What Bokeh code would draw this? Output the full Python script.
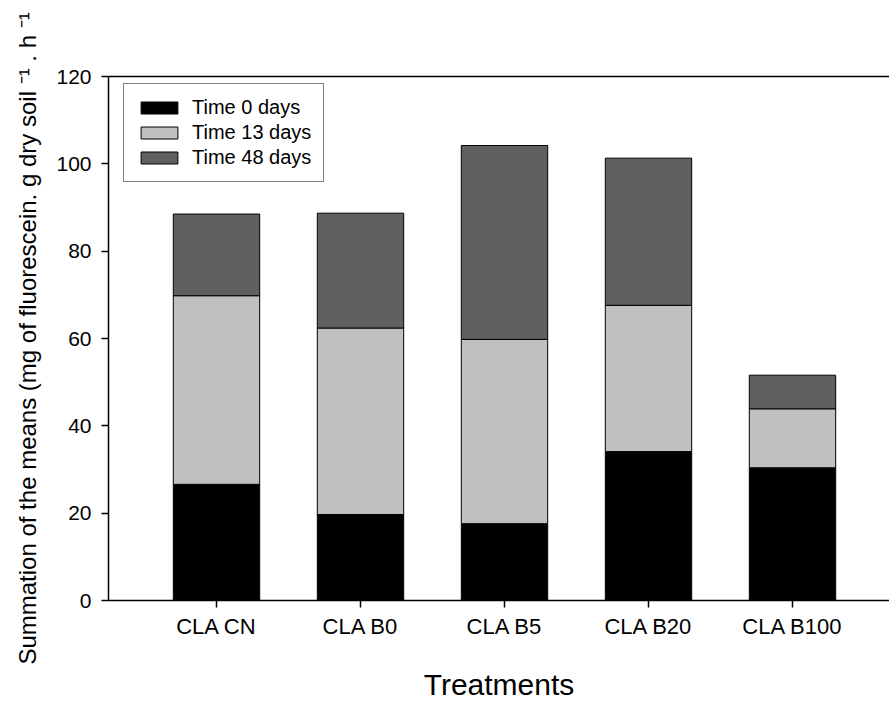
from bokeh.plotting import figure
from bokeh.models import (ColumnDataSource, Range1d, FixedTicker, LinearAxis, Legend, LegendItem)
from bokeh.embed import file_html
from bokeh.resources import INLINE

categories = ["CLA CN", "CLA B0", "CLA B5", "CLA B20", "CLA B100"]
time0 = [26.6, 19.7, 17.6, 34.1, 30.4]
time13 = [43.2, 42.7, 42.2, 33.5, 13.5]
time48 = [18.7, 26.3, 44.4, 33.7, 7.7]
series_names = ["Time 0 days", "Time 13 days", "Time 48 days"]
colors = ["#000000", "#c0c0c0", "#606060"]
y_ticks = [0, 20, 40, 60, 80, 100, 120]

FONT = "Liberation Sans"

xpos = list(range(len(categories)))
src = ColumnDataSource(dict(x=xpos, t0=time0, t13=time13, t48=time48))

W, H = 889, 704
LEFT, TOP, FRAME_H = 108, 76, 524
p = figure(width=W, height=H, output_backend="svg", toolbar_location=None,
           x_range=Range1d(-0.75, -0.75 + (W - LEFT) / 144), y_range=Range1d(0, 120),
           min_border_left=LEFT, min_border_right=0, min_border_top=TOP,
           min_border_bottom=H - TOP - FRAME_H)
p.outline_line_color = None
p.xgrid.visible = False
p.ygrid.visible = False
p.background_fill_color = "white"

renderers = p.vbar_stack(["t0", "t13", "t48"], x="x", width=0.6, source=src,
                         fill_color=colors, line_color="black", line_width=1)

legend = Legend(items=[LegendItem(label=n, renderers=[r]) for n, r in zip(series_names, renderers)],
                location=(15, 418))
legend.label_text_font = FONT
legend.label_text_font_size = "20px"
legend.label_text_color = "black"
legend.label_height = 20
legend.glyph_height = 15
legend.glyph_width = 46
legend.spacing = 2
legend.padding = 12
legend.margin = 0
legend.label_standoff = 10
legend.border_line_color = "black"
legend.border_line_width = 1
legend.background_fill_alpha = 1
p.add_layout(legend)

xa = p.xaxis[0]
xa.ticker = FixedTicker(ticks=xpos)
xa.major_label_overrides = {i: c for i, c in enumerate(categories)}
xa.axis_label = "Treatments"

ya = p.yaxis[0]
ya.ticker = FixedTicker(ticks=y_ticks)
ya.axis_label = "Summation of the means (mg of fluorescein. g dry soil \u207b\u00b9 . h \u207b\u00b9"

for ax in (xa, ya):
    ax.axis_line_color = "black"
    ax.axis_line_width = 1.5
    ax.major_tick_line_color = "black"
    ax.major_tick_line_width = 1.5
    ax.major_tick_out = 7
    ax.major_tick_in = 0
    ax.minor_tick_line_color = None
    ax.major_label_text_font = FONT
    ax.major_label_text_color = "black"
    ax.axis_label_text_font = FONT
    ax.axis_label_text_font_style = "normal"
    ax.axis_label_text_color = "black"

xa.major_label_text_font_size = "22px"
xa.major_label_standoff = 6
xa.axis_label_text_font_size = "30px"
xa.axis_label_standoff = 26
ya.major_label_text_font_size = "21px"
ya.major_label_standoff = 10
ya.axis_label_text_font_size = "24px"
ya.axis_label_standoff = 12

top = LinearAxis(axis_line_color="black", axis_line_width=1.5,
                 major_tick_line_color=None, minor_tick_line_color=None,
                 major_label_text_font_size="0px")
top.ticker = FixedTicker(ticks=[])
p.add_layout(top, "above")

open("out.html", "w").write(file_html(p, INLINE))
